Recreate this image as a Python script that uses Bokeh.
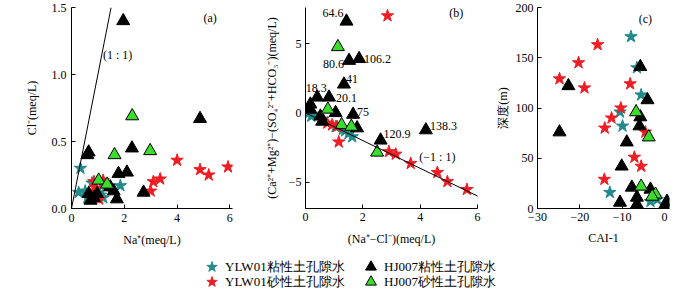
from bokeh.plotting import figure
from bokeh.layouts import column, row
from bokeh.models import (Range1d, FixedTicker, PrintfTickFormatter, Slope, Label,
                          Legend, LegendItem)
from bokeh.embed import file_html
from bokeh.resources import INLINE

# ---------------- data ----------------
# (a) Na+ vs Cl- (meq/L)
a_ylw_clay_na = [0.34, 0.27, 0.78, 1.85, 1.10, 0.52, 1.30, 1.20, 0.60]
a_ylw_clay_cl = [0.30, 0.12, 0.19, 0.17, 0.10, 0.13, 0.16, 0.08, 0.08]
a_ylw_sand_na = [4.00, 4.87, 5.20, 5.93, 3.36, 3.10, 3.00, 0.85, 1.20, 0.85, 1.05, 0.95]
a_ylw_sand_cl = [0.36, 0.29, 0.25, 0.31, 0.22, 0.20, 0.13, 0.20, 0.21, 0.13, 0.07, 0.15]
a_hj_clay_na = [1.96, 4.87, 0.65, 0.60, 2.29, 1.78, 2.10, 2.73, 1.72, 0.65, 0.97, 0.72, 1.47, 1.60, 0.85]
a_hj_clay_cl = [1.40, 0.67, 0.42, 0.40, 0.45, 0.26, 0.27, 0.12, 0.07, 0.11, 0.11, 0.06, 0.16, 0.13, 0.08]
a_hj_sand_na = [2.30, 2.98, 1.63, 1.03, 1.35]
a_hj_sand_cl = [0.69, 0.43, 0.40, 0.21, 0.18]

# (b) (Na+ - Cl-) vs (Ca2+ + Mg2+) - (SO4 2- + HCO3-)
b_ylw_clay_x = [0.12, 0.20, 0.25, 0.60, 1.05, 1.30, 1.38, 1.63, 1.50]
b_ylw_clay_y = [0.00, -0.25, -0.10, -0.45, -1.00, -1.20, -1.30, -1.73, -1.50]
b_ylw_sand_x = [2.86, 1.16, 0.76, 0.93, 1.10, 2.91, 3.15, 3.67, 4.60, 4.95, 5.63]
b_ylw_sand_y = [7.00, -2.10, -0.74, -0.87, -0.99, -2.80, -2.98, -3.65, -4.30, -4.96, -5.53]
b_hj_clay_x = [1.43, 1.52, 1.87, 1.34, 0.41, 0.82, 0.17, 0.17, 0.52, 0.58, 1.05, 1.66, 1.80, 2.62, 4.20]
b_hj_clay_y = [6.60, 3.77, 3.90, 2.06, 1.12, 1.12, 0.62, 0.25, -0.25, -0.62, 0.00, -0.12, -1.10, -1.98, -1.24]
b_hj_sand_x = [1.13, 0.78, 1.26, 1.60, 2.50]
b_hj_sand_y = [4.76, 0.25, -0.87, -0.99, -2.85]
b_label_text = ["64.6", "80.6", "106.2", "41", "18.3", "20.1", "75", "120.9", "138.3"]
b_label_index = [0, 1, 2, 3, 4, 5, 11, 13, 14]

# (c) CAI-1 vs depth (m)
c_ylw_clay_cai = [-7.9, -6.5, -5.5, -10.5, -9.9, -12.9, -3.3, -2.2, -1.7]
c_ylw_clay_dep = [171, 140, 113, 96, 82, 16, 7, 11, 9]
c_ylw_sand_cai = [-15.8, -20.3, -24.8, -18.9, -8.1, -10.3, -12.5, -14.1, -4.5, -7.1, -5.5, -14.2]
c_ylw_sand_dep = [163, 145, 129, 120, 124, 100, 90, 80, 76, 51, 42, 29]
c_hj_clay_cai = [-5.7, -22.7, -4.0, -5.7, -5.9, -24.8, -8.9, -10.1, -7.7, -3.3, -10.5, -6.5, -6.5, 0.6, 0.2]
c_hj_clay_dep = [141, 122, 108, 91, 82, 76, 66, 42, 21, 19, 6, 11, 4, 7, 4]
c_hj_sand_cai = [-6.7, -3.7, -5.5, -2.1, -2.9]
c_hj_sand_dep = [96, 71, 22, 14, 12]

legend_labels = ["YLW01粘性土孔隙水", "YLW01砂性土孔隙水", "HJ007粘性土孔隙水", "HJ007砂性土孔隙水"]

# ---------------- style ----------------
SERIF = "Liberation Serif"
FS = "12px"
TEAL = "#208a8c"
RED = "#ee1d23"
GREEN = "#3cdc2c"
TOP_H = 250


def make_fig(width, xr, yr, mbl, mbr):
    p = figure(width=width, height=TOP_H, x_range=Range1d(*xr), y_range=Range1d(*yr),
               output_backend="svg", toolbar_location=None,
               min_border_left=mbl, min_border_right=mbr,
               min_border_top=7, min_border_bottom=42)
    p.outline_line_color = None
    p.xgrid.visible = False
    p.ygrid.visible = False
    for ax in p.axis:
        ax.major_tick_in = 4
        ax.major_tick_out = 0
        ax.minor_tick_line_color = None
        ax.axis_line_color = "black"
        ax.major_tick_line_color = "black"
        ax.major_label_text_font = SERIF
        ax.major_label_text_font_size = FS
        ax.major_label_text_color = "black"
        ax.axis_label_text_font = SERIF
        ax.axis_label_text_font_size = FS
        ax.axis_label_text_font_style = "normal"
        ax.axis_label_text_color = "black"
    return p


def draw(p, tx, ty, rx, ry, bx, by, gx, gy):
    r1 = p.scatter(tx, ty, marker="star", size=13, fill_color=TEAL, line_color=TEAL)
    r2 = p.scatter(rx, ry, marker="star", size=13, fill_color=RED, line_color=RED)
    r3 = p.scatter(bx, by, marker="triangle", size=13, fill_color="black", line_color="black")
    r4 = p.scatter(gx, gy, marker="triangle", size=13, fill_color=GREEN, line_color="black")
    return [r1, r2, r3, r4]


def tag(p, x, y, text, dx=0, dy=0, align="center"):
    p.add_layout(Label(x=x, y=y, text=text, x_offset=dx, y_offset=dy,
                       text_align=align, text_baseline="middle",
                       text_font=SERIF, text_font_size=FS, text_color="#000000"))


# ---------------- (a) ----------------
pa = make_fig(240, (0, 6.1), (0, 1.5), 71, 8)
pa.xaxis.ticker = FixedTicker(ticks=[0, 2, 4, 6])
pa.yaxis.ticker = FixedTicker(ticks=[0, 0.5, 1.0, 1.5])
pa.yaxis.formatter = PrintfTickFormatter(format="%.1f")
pa.xaxis.axis_label = "Na⁺(meq/L)"
pa.yaxis.axis_label = "Cl⁻(meq/L)"
pa.xaxis.major_label_standoff = 5
pa.xaxis.axis_label_standoff = 8
pa.yaxis.major_label_standoff = 5
pa.yaxis.axis_label_standoff = 10
pa.add_layout(Slope(gradient=1, y_intercept=0, line_color="black", line_width=1))
draw(pa, a_ylw_clay_na, a_ylw_clay_cl, a_ylw_sand_na, a_ylw_sand_cl,
     a_hj_clay_na, a_hj_clay_cl, a_hj_sand_na, a_hj_sand_cl)
tag(pa, 1.75, 1.147, "(1 : 1)")
tag(pa, 5.25, 1.42, "(a)")

# ---------------- (b) ----------------
pb = make_fig(250, (0, 6), (-6.9, 7.6), 65, 13)
pb.xaxis.ticker = FixedTicker(ticks=[0, 2, 4, 6])
pb.yaxis.ticker = FixedTicker(ticks=[-5, 0, 5])
pb.yaxis.major_label_overrides = {-5: "−5"}
pb.xaxis.axis_label = "(Na⁺−Cl⁻)(meq/L)"
pb.yaxis.axis_label = "(Ca²⁺+Mg²⁺)−(SO₄²⁻+HCO₃⁻)(meq/L)"
pb.xaxis.major_label_standoff = 4
pb.xaxis.axis_label_standoff = 8
pb.yaxis.major_label_standoff = 4
pb.yaxis.axis_label_standoff = 7
pb.add_layout(Slope(gradient=-1, y_intercept=0, line_color="black", line_width=1))
draw(pb, b_ylw_clay_x, b_ylw_clay_y, b_ylw_sand_x, b_ylw_sand_y,
     b_hj_clay_x, b_hj_clay_y, b_hj_sand_x, b_hj_sand_y)

# sample labels beside the black triangles (placement offsets in screen px, up = +)
lab_dx = [-3, -5, 5, 2, -1, 7, 4, 3, 4]
lab_dy = [8, -3, 0, 5, 9, -1, 3, 6, 4]
lab_align = ["right", "right", "left", "left", "center", "left", "left", "left", "left"]
for k, txt in enumerate(b_label_text):
    i = b_label_index[k]
    tag(pb, b_hj_clay_x[i], b_hj_clay_y[i], txt, lab_dx[k], lab_dy[k], lab_align[k])
tag(pb, 4.6, -3.22, "(−1 : 1)")
tag(pb, 5.26, 7.2, "(b)")

# ---------------- (c) ----------------
pc = make_fig(207, (-30, 1.2), (0, 200), 47, 28)
pc.xaxis.ticker = FixedTicker(ticks=[-30, -20, -10, 0])
pc.xaxis.major_label_overrides = {-30: "−30", -20: "−20", -10: "−10"}
pc.yaxis.ticker = FixedTicker(ticks=[0, 50, 100, 150, 200])
pc.xaxis.axis_label = "CAI-1"
pc.yaxis.axis_label = "深度(m)"
pc.xaxis.major_label_standoff = 4
pc.xaxis.axis_label_standoff = 7
pc.yaxis.major_label_standoff = 4
pc.yaxis.axis_label_standoff = 3
draw(pc, c_ylw_clay_cai, c_ylw_clay_dep, c_ylw_sand_cai, c_ylw_sand_dep,
     c_hj_clay_cai, c_hj_clay_dep, c_hj_sand_cai, c_hj_sand_dep)
tag(pc, -4.5, 189, "(c)")

# ---------------- legend strip ----------------
# the legend renderers hold the panel (a) data, but this strip's ranges lie outside it,
# so only the legend swatches are visible
leg = figure(width=697, height=293 - TOP_H, x_range=Range1d(-20, -10), y_range=Range1d(-20, -10),
             output_backend="svg", toolbar_location=None,
             x_axis_location=None, y_axis_location=None, min_border=0)
leg.outline_line_color = None
leg.xgrid.visible = False
leg.ygrid.visible = False
leg_rs = draw(leg, a_ylw_clay_na, a_ylw_clay_cl, a_ylw_sand_na, a_ylw_sand_cl,
              a_hj_clay_na, a_hj_clay_cl, a_hj_sand_na, a_hj_sand_cl)

for r, lab, loc in zip(leg_rs, legend_labels,
                       [(198, 13), (198, -2), (357, 13), (357, -2)]):
    lg = Legend(items=[LegendItem(label=lab, renderers=[r])], location=loc,
                orientation="vertical", glyph_width=27, glyph_height=27, label_height=27,
                label_standoff=0, padding=0, margin=0, spacing=0,
                border_line_color=None, background_fill_alpha=0,
                label_text_font=SERIF, label_text_font_size="13px", label_text_color="black")
    leg.add_layout(lg)

layout = column(row(pa, pb, pc), leg)
open("out.html", "w").write(file_html(layout, INLINE))
